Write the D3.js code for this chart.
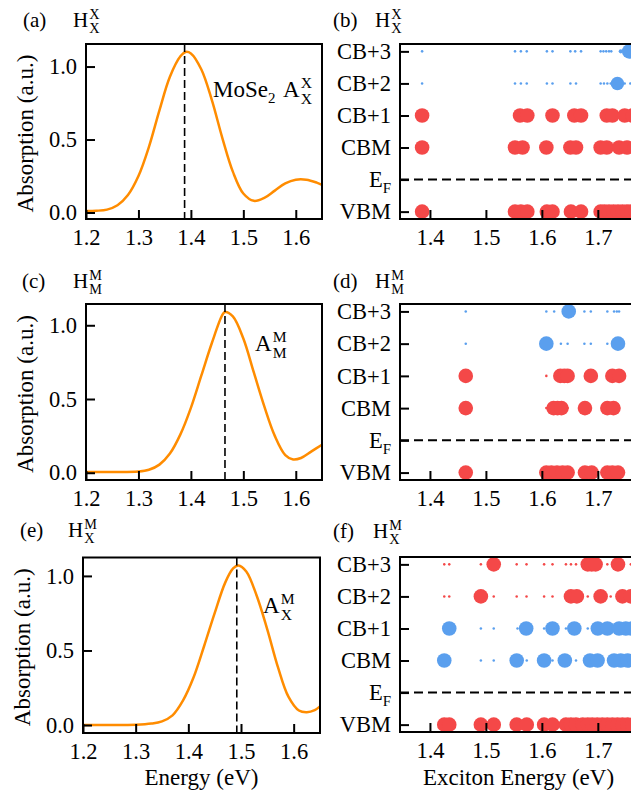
<!DOCTYPE html>
<html>
<head>
<meta charset="utf-8">
<script src="https://cdn.jsdelivr.net/npm/d3@7"></script>
<style>
  body { margin: 0; background: #fff; }
  text { font-family: "Liberation Serif", "Times New Roman", serif; fill: #000; }
</style>
</head>
<body>
<div id="chart"></div>
<script>
// ---- absorption spectra (left column) ----
var energyA = [1.20, 1.22, 1.24, 1.26, 1.28, 1.30, 1.32, 1.34, 1.36, 1.38, 1.39, 1.40, 1.42, 1.44, 1.46, 1.48, 1.50, 1.52, 1.54, 1.56, 1.58, 1.60, 1.62, 1.64, 1.65];
var absorbA = [0.010, 0.012, 0.020, 0.050, 0.120, 0.250, 0.450, 0.700, 0.930, 1.070, 1.100, 1.090, 0.980, 0.770, 0.510, 0.280, 0.130, 0.080, 0.100, 0.150, 0.200, 0.225, 0.225, 0.205, 0.190];

var energyC = [1.20, 1.25, 1.30, 1.32, 1.34, 1.36, 1.38, 1.40, 1.42, 1.44, 1.46, 1.465, 1.48, 1.50, 1.52, 1.54, 1.56, 1.58, 1.595, 1.61, 1.63, 1.65];
var absorbC = [0.005, 0.005, 0.008, 0.020, 0.055, 0.130, 0.260, 0.440, 0.660, 0.880, 1.070, 1.090, 1.060, 0.910, 0.680, 0.450, 0.250, 0.120, 0.090, 0.100, 0.145, 0.190];

var energyE = [1.20, 1.25, 1.30, 1.33, 1.35, 1.37, 1.39, 1.41, 1.43, 1.45, 1.47, 1.485, 1.495, 1.51, 1.53, 1.55, 1.57, 1.59, 1.61, 1.625, 1.64, 1.65];
var absorbE = [0.000, 0.000, 0.002, 0.010, 0.025, 0.065, 0.165, 0.320, 0.530, 0.750, 0.955, 1.050, 1.070, 1.030, 0.865, 0.640, 0.390, 0.190, 0.097, 0.086, 0.100, 0.125];

var peakA = 1.388, peakC = 1.465, peakE = 1.492;
var energyTicks = [1.2, 1.3, 1.4, 1.5, 1.6];
var absorbTicks = [0.0, 0.5, 1.0];

// ---- exciton band contributions (right column): [energy, band, weight] ----
var bandNames = ["VBM", "E_F", "CBM", "CB+1", "CB+2", "CB+3"];
var excitonTicks = [1.4, 1.5, 1.6, 1.7];

var excitonB = [
  [1.386,"CB+3",.03],[1.552,"CB+3",.03],[1.5625,"CB+3",.03],[1.573,"CB+3",.03],[1.609,"CB+3",.03],[1.619,"CB+3",.03],
  [1.651,"CB+3",.03],[1.6595,"CB+3",.03],[1.67,"CB+3",.03],[1.705,"CB+3",.03],[1.710,"CB+3",.03],[1.715,"CB+3",.03],
  [1.72,"CB+3",.03],[1.724,"CB+3",.03],[1.741,"CB+3",.08],[1.756,"CB+3",1],
  [1.386,"CB+2",.03],[1.552,"CB+2",.03],[1.5625,"CB+2",.03],[1.573,"CB+2",.03],[1.609,"CB+2",.03],[1.619,"CB+2",.03],
  [1.651,"CB+2",.03],[1.661,"CB+2",.03],[1.705,"CB+2",.03],[1.711,"CB+2",.03],[1.717,"CB+2",.03],[1.723,"CB+2",.03],
  [1.735,"CB+2",.85],[1.748,"CB+2",.03],[1.758,"CB+2",.03],
  [1.386,"CB+1",1],[1.561,"CB+1",1],[1.574,"CB+1",1],[1.619,"CB+1",1],[1.658,"CB+1",1],[1.67,"CB+1",1],
  [1.716,"CB+1",1],[1.726,"CB+1",1],[1.748,"CB+1",1],[1.762,"CB+1",1],
  [1.386,"CBM",1],[1.552,"CBM",1],[1.5655,"CBM",1],[1.608,"CBM",1],[1.651,"CBM",1],[1.661,"CBM",1],
  [1.705,"CBM",1],[1.716,"CBM",1],[1.738,"CBM",1],[1.752,"CBM",1],[1.766,"CBM",1],
  [1.386,"VBM",1],[1.552,"VBM",1],[1.5625,"VBM",1],[1.574,"VBM",1],[1.609,"VBM",1],[1.619,"VBM",1],
  [1.652,"VBM",1],[1.67,"VBM",1],[1.705,"VBM",1],[1.712,"VBM",1],[1.72,"VBM",1],[1.728,"VBM",1],
  [1.736,"VBM",1],[1.744,"VBM",1],[1.752,"VBM",1],[1.76,"VBM",1],[1.768,"VBM",1]
];

var excitonD = [
  [1.464,"CB+3",.03],[1.608,"CB+3",.03],[1.622,"CB+3",.03],[1.648,"CB+3",1],[1.676,"CB+3",.03],[1.6875,"CB+3",.03],
  [1.717,"CB+3",.03],[1.729,"CB+3",.03],[1.734,"CB+3",.03],[1.738,"CB+3",.03],
  [1.464,"CB+2",.03],[1.608,"CB+2",1],[1.634,"CB+2",.03],[1.646,"CB+2",.03],[1.676,"CB+2",.03],[1.6875,"CB+2",.03],
  [1.717,"CB+2",.03],[1.736,"CB+2",1],
  [1.464,"CB+1",1],[1.608,"CB+1",.03],[1.633,"CB+1",1],[1.64,"CB+1",1],[1.646,"CB+1",1],[1.6875,"CB+1",1],
  [1.726,"CB+1",1],[1.738,"CB+1",1],
  [1.464,"CBM",1],[1.608,"CBM",.03],[1.621,"CBM",1],[1.628,"CBM",1],[1.635,"CBM",1],[1.646,"CBM",.03],
  [1.677,"CBM",1],[1.717,"CBM",1],[1.728,"CBM",1],
  [1.464,"VBM",1],[1.608,"VBM",1],[1.617,"VBM",1],[1.627,"VBM",1],[1.637,"VBM",1],[1.646,"VBM",1],
  [1.677,"VBM",1],[1.689,"VBM",1],[1.717,"VBM",1],[1.726,"VBM",1],[1.736,"VBM",1]
];

var excitonF = [
  [1.4256,"CB+3",.03],[1.4345,"CB+3",.03],[1.491,"CB+3",.03],[1.514,"CB+3",1],[1.555,"CB+3",.03],[1.5726,"CB+3",.03],
  [1.604,"CB+3",.03],[1.619,"CB+3",.03],[1.643,"CB+3",.03],[1.652,"CB+3",.03],[1.661,"CB+3",.03],[1.682,"CB+3",1],
  [1.689,"CB+3",1],[1.696,"CB+3",1],[1.717,"CB+3",.03],[1.736,"CB+3",1],[1.759,"CB+3",.03],
  [1.4256,"CB+2",.03],[1.4345,"CB+2",.03],[1.491,"CB+2",1],[1.514,"CB+2",.03],[1.555,"CB+2",.03],[1.5726,"CB+2",.03],
  [1.604,"CB+2",.03],[1.619,"CB+2",.03],[1.652,"CB+2",1],[1.6625,"CB+2",1],[1.682,"CB+2",.03],[1.705,"CB+2",1],
  [1.723,"CB+2",.03],[1.744,"CB+2",1],[1.759,"CB+2",1],
  [1.4345,"CB+1",1],[1.491,"CB+1",.03],[1.514,"CB+1",.03],[1.5565,"CB+1",.03],[1.572,"CB+1",1],[1.604,"CB+1",.03],
  [1.619,"CB+1",1],[1.643,"CB+1",.03],[1.658,"CB+1",1],[1.682,"CB+1",.03],[1.700,"CB+1",1],[1.717,"CB+1",1],
  [1.738,"CB+1",1],[1.75,"CB+1",1],[1.761,"CB+1",1],
  [1.4256,"CBM",1],[1.491,"CBM",.03],[1.514,"CBM",.03],[1.555,"CBM",1],[1.573,"CBM",.03],[1.604,"CBM",1],
  [1.619,"CBM",.03],[1.641,"CBM",1],[1.661,"CBM",.03],[1.686,"CBM",1],[1.6995,"CBM",1],[1.729,"CBM",1],
  [1.741,"CBM",1],[1.753,"CBM",1],[1.765,"CBM",1],
  [1.4256,"VBM",1],[1.4345,"VBM",1],[1.491,"VBM",1],[1.514,"VBM",1],[1.555,"VBM",1],[1.573,"VBM",1],
  [1.604,"VBM",1],[1.619,"VBM",1],[1.643,"VBM",1],[1.652,"VBM",1],[1.661,"VBM",1],[1.673,"VBM",1],
  [1.682,"VBM",1],[1.69,"VBM",1],[1.699,"VBM",1],[1.708,"VBM",1],[1.717,"VBM",1],[1.726,"VBM",1],
  [1.735,"VBM",1],[1.744,"VBM",1],[1.753,"VBM",1],[1.762,"VBM",1]
];

// ---- styles ----
var orange = "#ff8c00", red = "#f44848", blue = "#5a9fee";
var tickFont = 22.5, labelFont = 23, titleFont = 21;

var svg = d3.select("#chart").append("svg")
  .attr("width", 631).attr("height", 802)
  .style("background", "#fff");

// base text with stacked superscript/subscript (like H^X_X)
function stacked(g, x, y, base, sup, sub, size) {
  var t = g.append("text").attr("x", x).attr("y", y).attr("font-size", size).text(base);
  var w = t.node().getComputedTextLength();
  g.append("text").attr("x", x + w + 1).attr("y", y - 0.4 * size).attr("font-size", size * 0.68).text(sup);
  g.append("text").attr("x", x + w + 1).attr("y", y + 0.3 * size).attr("font-size", size * 0.68).text(sub);
}

function panelTitle(letter, lx, hx, y, sup, sub) {
  svg.append("text").attr("x", lx).attr("y", y).attr("font-size", titleFont).text(letter);
  stacked(svg, hx, y, "H", sup, sub, titleFont);
}

function styleAxis(g) {
  g.select(".domain").remove();
  g.selectAll(".tick line").attr("stroke", "#000").attr("stroke-width", 2);
  g.selectAll(".tick text").attr("font-size", tickFont)
    .attr("font-family", "'Liberation Serif', 'Times New Roman', serif");
}

function frame(b) {
  svg.append("rect")
    .attr("x", b.x0).attr("y", b.y0)
    .attr("width", b.x1 - b.x0).attr("height", b.y1 - b.y0)
    .attr("fill", "none").attr("stroke", "#000").attr("stroke-width", 2);
}

function absorptionPanel(b, energy, absorb, peak, showXLabel) {
  var x = d3.scaleLinear().domain([1.2, 1.65]).range([b.x0, b.x1]);
  var ext = d3.extent(absorb), pad = (ext[1] - ext[0]) * 0.05;
  var y = d3.scaleLinear().domain([ext[0] - pad, ext[1] + pad]).range([b.y1, b.y0]);
  var g = svg.append("g");

  var line = d3.line()
    .x(function(d, i) { return x(energy[i]); })
    .y(function(d) { return y(d); })
    .curve(d3.curveCatmullRom);
  g.append("path").datum(absorb)
    .attr("d", line).attr("fill", "none")
    .attr("stroke", orange).attr("stroke-width", 2.5);

  g.append("line")
    .attr("x1", x(peak)).attr("x2", x(peak))
    .attr("y1", b.y0).attr("y2", b.y1)
    .attr("stroke", "#000").attr("stroke-width", 1.6)
    .attr("stroke-dasharray", "8,4");

  svg.append("g").attr("transform", "translate(0," + b.y1 + ")")
    .call(d3.axisBottom(x).tickValues(energyTicks).tickFormat(d3.format(".1f"))
      .tickSizeInner(-9).tickSizeOuter(0).tickPadding(10))
    .call(styleAxis);
  svg.append("g").attr("transform", "translate(" + b.x0 + ",0)")
    .call(d3.axisLeft(y).tickValues(absorbTicks).tickFormat(d3.format(".1f"))
      .tickSizeInner(-9).tickSizeOuter(0).tickPadding(9))
    .call(styleAxis);

  frame(b);

  svg.append("text")
    .attr("transform", "translate(" + (b.x0 - 53) + "," + ((b.y0 + b.y1) / 2 + 2) + ") rotate(-90)")
    .attr("text-anchor", "middle").attr("font-size", labelFont)
    .text("Absorption (a.u.)");

  if (showXLabel) {
    svg.append("text").attr("x", (b.x0 + b.x1) / 2).attr("y", 785)
      .attr("text-anchor", "middle").attr("font-size", labelFont).text("Energy (eV)");
  }
}

function excitonPanel(b, data, blueBands, showXLabel) {
  var x = d3.scaleLinear().domain([1.3465, 1.77]).range([b.x0, b.x1]);
  var y = d3.scaleLinear().domain([-0.23, 5.23]).range([b.y1, b.y0]);
  var r = d3.scaleSqrt().domain([0, 1]).range([0, 7.3]);

  svg.append("line")
    .attr("x1", b.x0).attr("x2", b.x1)
    .attr("y1", y(1)).attr("y2", y(1))
    .attr("stroke", "#000").attr("stroke-width", 2)
    .attr("stroke-dasharray", "9,5");

  svg.append("g").selectAll("circle")
    .data(data).enter().append("circle")
    .attr("cx", function(d) { return x(d[0]); })
    .attr("cy", function(d) { return y(bandNames.indexOf(d[1])); })
    .attr("r", function(d) { return r(d[2]); })
    .attr("fill", function(d) { return blueBands.indexOf(d[1]) >= 0 ? blue : red; });

  svg.append("g").attr("transform", "translate(0," + b.y1 + ")")
    .call(d3.axisBottom(x).tickValues(excitonTicks).tickFormat(d3.format(".1f"))
      .tickSizeInner(-9).tickSizeOuter(0).tickPadding(10))
    .call(styleAxis);
  var ya = svg.append("g").attr("transform", "translate(" + b.x0 + ",0)")
    .call(d3.axisLeft(y).tickValues([0, 1, 2, 3, 4, 5])
      .tickFormat(function(d) { return bandNames[d]; })
      .tickSizeInner(-9).tickSizeOuter(0).tickPadding(9))
    .call(styleAxis);
  // E_F with subscript
  ya.selectAll(".tick text").filter(function(d) { return d === 1; })
    .text("E")
    .append("tspan").attr("dy", 6).attr("font-size", 15).text("F");

  frame(b);

  if (showXLabel) {
    svg.append("text").attr("x", (b.x0 + b.x1) / 2).attr("y", 785)
      .attr("text-anchor", "middle").attr("font-size", labelFont).text("Exciton Energy (eV)");
  }
}

// ---- layout ----
var boxA = {x0: 86, x1: 322, y0: 44, y1: 219};
var boxB = {x0: 400, x1: 637, y0: 44, y1: 219};
var boxC = {x0: 86, x1: 322, y0: 304, y1: 480};
var boxD = {x0: 400, x1: 637, y0: 304, y1: 480};
var boxE = {x0: 83, x1: 320, y0: 557.5, y1: 733};
var boxF = {x0: 400, x1: 637, y0: 557, y1: 732};

absorptionPanel(boxA, energyA, absorbA, peakA, false);
absorptionPanel(boxC, energyC, absorbC, peakC, false);
absorptionPanel(boxE, energyE, absorbE, peakE, true);

excitonPanel(boxB, excitonB, ["CB+3", "CB+2"], false);
excitonPanel(boxD, excitonD, ["CB+3", "CB+2"], false);
excitonPanel(boxF, excitonF, ["CB+1", "CBM"], true);

// annotations
var mo = svg.append("text").attr("x", 213).attr("y", 97).attr("font-size", labelFont).text("MoSe");
mo.append("tspan").attr("dy", 6).attr("font-size", 15).text("2");
stacked(svg, 283, 97, "A", "X", "X", labelFont);
stacked(svg, 255, 351, "A", "M", "M", labelFont);
stacked(svg, 263, 613, "A", "M", "X", labelFont);

// panel titles
panelTitle("(a)", 23, 73, 27, "X", "X");
panelTitle("(b)", 333, 375, 27, "X", "X");
panelTitle("(c)", 22, 73, 288, "M", "M");
panelTitle("(d)", 333, 375, 288, "M", "M");
panelTitle("(e)", 20, 68, 537, "M", "X");
panelTitle("(f)", 333, 373, 538, "M", "X");
</script>
</body>
</html>
